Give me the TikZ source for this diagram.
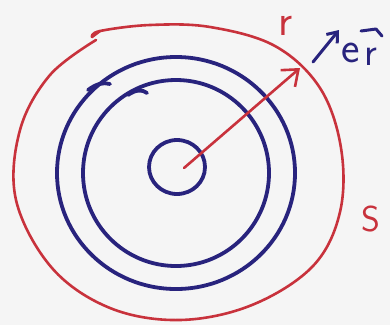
\documentclass[tikz,border=0pt]{standalone}
\usetikzlibrary{arrows.meta}
\definecolor{pred}{RGB}{200,50,60}
\definecolor{pblue}{RGB}{40,35,125}
\begin{document}
\begin{tikzpicture}[x=1pt,y=-1pt,
  redpen/.style={draw=pred,line width=2.6pt,line cap=round,line join=round},
  bluepen/.style={draw=pblue,line width=3.8pt,line cap=round,line join=round},
  lbl/.style={inner sep=0pt,anchor=base}]
\fill[white!92!gray] (0,0) rectangle (390,325);
\useasboundingbox (0,0) rectangle (390,325);
% outer red surface
\draw[redpen] plot[smooth,tension=0.6] coordinates{(92,37) (100,31) (150,25) (210,27) (275,46) (320,88) (341,148) (340,212) (313,266) (252,305) (180,320) (110,308) (52,268) (16,200) (20,130) (50,75) (96,40)};
\draw[redpen] (92,37) -- (100,31);
% blue circles
\draw[bluepen] (176,173) ellipse[x radius=119,y radius=116];
\draw[bluepen] (88,90) .. controls (96,84) and (103,82) .. (110,84);
\draw[bluepen] (176,173) ellipse[x radius=93,y radius=93];
\draw[bluepen] (128,95) .. controls (135,90) and (142,89) .. (147,93);
\draw[bluepen] (177,167) ellipse[x radius=28,y radius=27];
% radius vector
\coordinate (o) at (184,168);
\coordinate (p) at (300,68);
\draw[redpen,-{Straight Barb[length=14pt,width=22pt]}] (o) -- (p);
\node[lbl,text=pred,font=\sffamily\fontsize{44}{44}\selectfont] (r) at (286,35) {r};
% unit vector
\coordinate (u0) at (313,62);
\coordinate (u1) at (339,30);
\draw[bluepen,line width=3pt,-{Straight Barb[length=9pt,width=14pt]}] (u0) -- (u1);
\node[lbl,text=pblue,font=\sffamily\fontsize{44}{44}\selectfont] (e) at (351,62) {e};
\node[lbl,text=pblue,font=\sffamily\fontsize{40}{40}\selectfont] (rr) at (371,65) {r};
\draw[bluepen,line width=3pt] (361,31) -- (376,29) -- (382,36);
\node[lbl,text=pred,font=\sffamily\fontsize{36}{36}\selectfont] (s) at (371,231) {S};
\end{tikzpicture}
\end{document}
